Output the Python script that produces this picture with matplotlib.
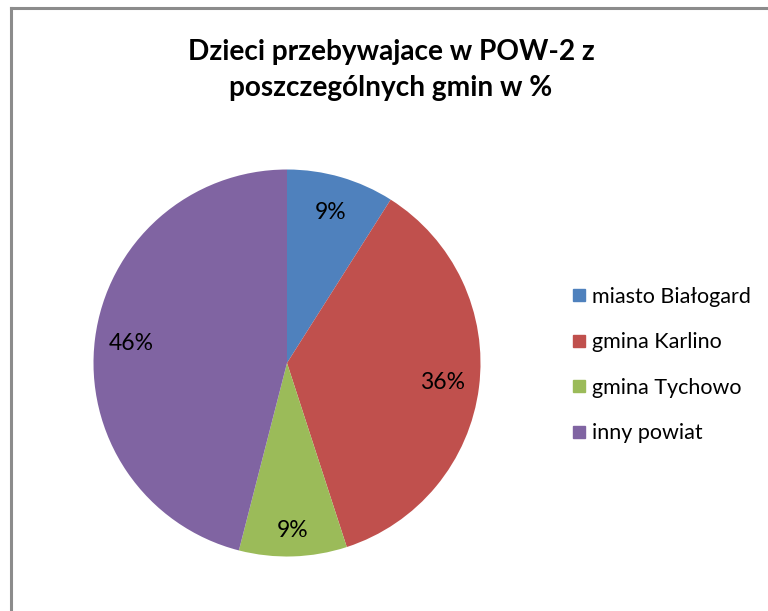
import matplotlib
matplotlib.use("Agg")
import matplotlib.pyplot as plt
from matplotlib.lines import Line2D

categories = ["miasto Białogard", "gmina Karlino", "gmina Tychowo", "inny powiat"]
values = [9, 36, 9, 46]
colors = ["#4F81BD", "#C0504D", "#9BBB59", "#8064A2"]
title = "Dzieci przebywajace w POW-2 z\nposzczególnych gmin w %"

plt.rcParams['font.family'] = ['Lato', 'DejaVu Sans']

W, H = 768, 611
fig = plt.figure(figsize=(W / 100, H / 100), dpi=100)

# outer frame (left and top visible)
fig.add_artist(Line2D([10.5 / W, 10.5 / W], [0, 1 - 7.5 / H], transform=fig.transFigure,
                      color="#8c8c8c", lw=2.2))
fig.add_artist(Line2D([10.5 / W, 1], [1 - 7.5 / H, 1 - 7.5 / H], transform=fig.transFigure,
                      color="#8c8c8c", lw=2.2))

cx, cy, r = 287, 363, 193.5
ax = fig.add_axes([(cx - r) / W, (H - cy - r) / H, 2 * r / W, 2 * r / H])
wedges, texts, autotexts = ax.pie(values, colors=colors, startangle=90, counterclock=False,
                                  autopct=lambda p: f"{p:.0f}%", pctdistance=0.81,
                                  radius=1.0, textprops=dict(fontsize=16.5, color="black"))
ax.set_xlim(-1, 1)
ax.set_ylim(-1, 1)
ax.set_aspect("equal")
# green label sits slightly further out
x, y = autotexts[2].get_position()
autotexts[2].set_position((x * 1.07, y * 1.07))

fig.text(391 / W, 1 - 70 / H, title, ha="center", va="center", fontsize=20.2,
         fontweight="bold", linespacing=1.45)

handles = [Line2D([], [], marker="s", linestyle="none", markersize=8,
                  markerfacecolor=c, markeredgecolor=c) for c in colors]
fig.legend(handles, categories, loc="upper left", bbox_to_anchor=(573 / W, 1 - 287 / H),
           frameon=False, fontsize=15.5, handlelength=0.55, handletextpad=0.35,
           labelspacing=1.18, borderaxespad=0, borderpad=0)

fig.savefig("out.png", dpi=100)
